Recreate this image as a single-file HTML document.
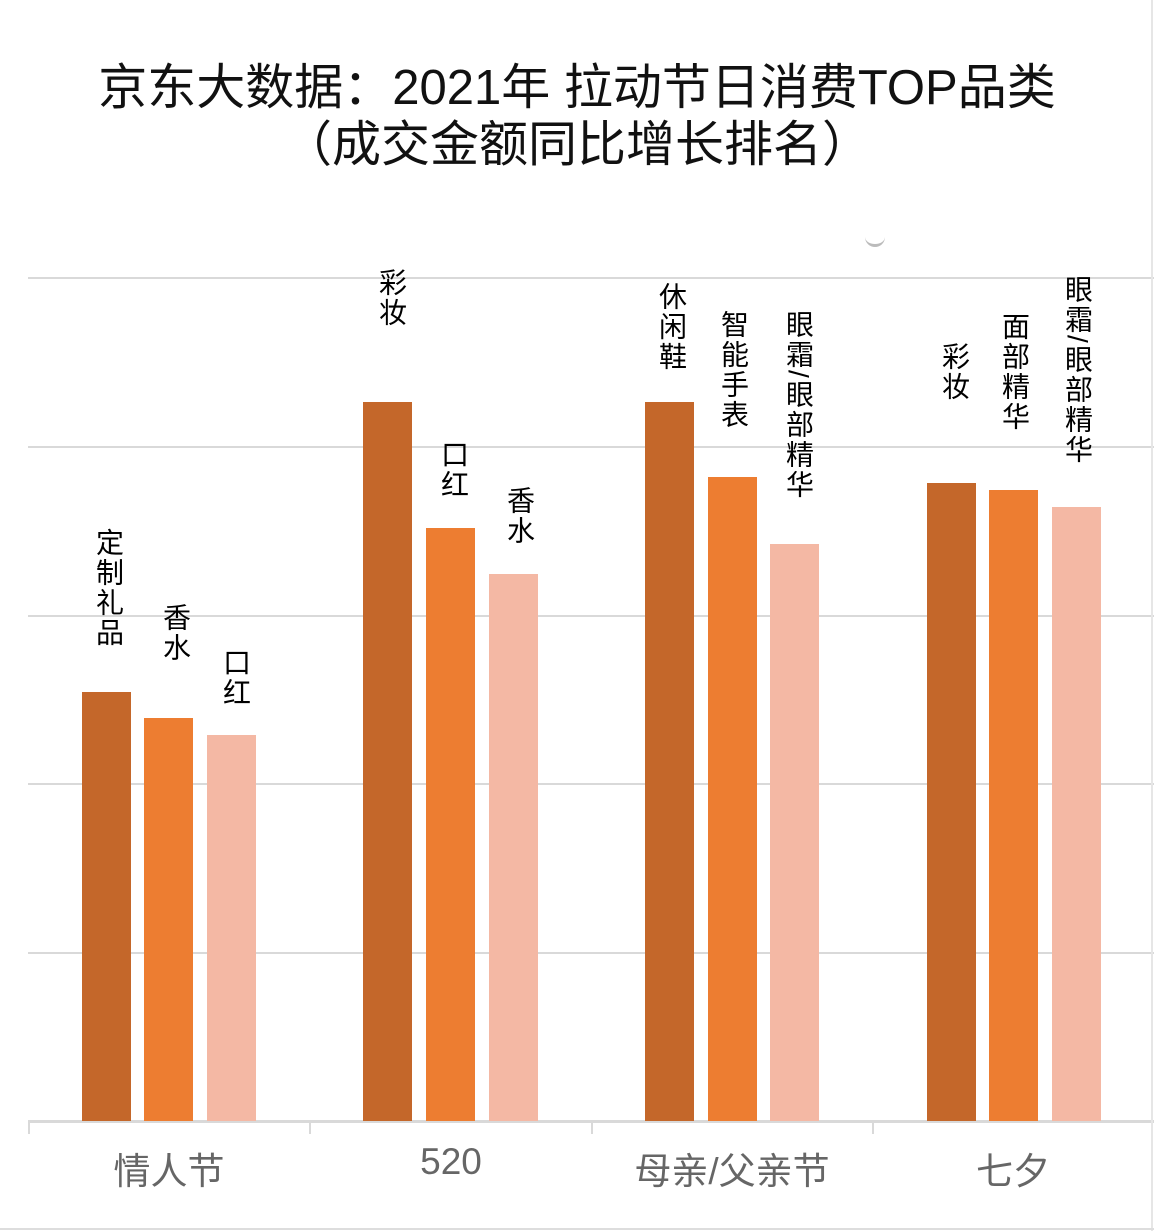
<!DOCTYPE html>
<html><head><meta charset="utf-8"><style>
body{margin:0;width:1154px;height:1231px;background:#fff;position:relative;overflow:hidden;font-family:"Liberation Sans","Noto Sans CJK SC",sans-serif}
.t{position:absolute;left:0;width:1154px;text-align:center;font-size:49px;color:#111;line-height:57px}
.g{position:absolute;left:28px;width:1126px;height:2px;background:#d9d9d9}
.b{position:absolute;width:49px}
.c1{background:#C4672A}.c2{background:#ED7D31}.c3{background:#F4B8A4}
.l{position:absolute;writing-mode:vertical-rl;font-size:28px;line-height:28px;color:#000;transform:translateX(-50%);letter-spacing:2px}
.x{position:absolute;top:1141px;font-size:37px;color:#666;transform:translateX(-50%)}
.tk{position:absolute;top:1121px;width:2px;height:13px;background:#d9d9d9}
</style></head><body>
<div class="t" style="top:60px">京东大数据：2021年 拉动节日消费TOP品类</div>
<div class="t" style="top:117px">（成交金额同比增长排名）</div>
<div style="position:absolute;left:865px;top:236px;width:20px;height:8px;border-bottom:3px solid #bbb;border-radius:0 0 10px 10px"></div>
<div class="g" style="top:277px"></div>
<div class="g" style="top:446px"></div>
<div class="g" style="top:615px"></div>
<div class="g" style="top:783px"></div>
<div class="g" style="top:952px"></div>
<div class="g" style="top:1120px;height:3px"></div>
<div class="tk" style="left:28px"></div><div class="tk" style="left:309px"></div><div class="tk" style="left:591px"></div><div class="tk" style="left:872px"></div>
<div style="position:absolute;left:1151px;top:0;width:2px;height:1231px;background:#e6e6e6"></div>
<div style="position:absolute;left:0;top:1228px;width:1154px;height:2px;background:#ddd"></div>

<div class="b c1" style="left:82px;top:692px;height:429px"></div>
<div class="b c2" style="left:144px;top:718px;height:403px"></div>
<div class="b c3" style="left:207px;top:735px;height:386px"></div>
<div class="b c1" style="left:363px;top:402px;height:719px"></div>
<div class="b c2" style="left:426px;top:528px;height:593px"></div>
<div class="b c3" style="left:489px;top:574px;height:547px"></div>
<div class="b c1" style="left:645px;top:402px;height:719px"></div>
<div class="b c2" style="left:708px;top:477px;height:644px"></div>
<div class="b c3" style="left:770px;top:544px;height:577px"></div>
<div class="b c1" style="left:927px;top:483px;height:638px"></div>
<div class="b c2" style="left:989px;top:490px;height:631px"></div>
<div class="b c3" style="left:1052px;top:507px;height:614px"></div>

<div class="l" style="left:108px;top:528px">定制礼品</div>
<div class="l" style="left:175px;top:603px">香水</div>
<div class="l" style="left:235px;top:648px">口红</div>
<div class="l" style="left:391px;top:268px">彩妆</div>
<div class="l" style="left:453px;top:440px">口红</div>
<div class="l" style="left:519px;top:486px">香水</div>
<div class="l" style="left:671px;top:282px">休闲鞋</div>
<div class="l" style="left:733px;top:310px">智能手表</div>
<div class="l" style="left:798px;top:310px">眼霜/眼部精华</div>
<div class="l" style="left:954px;top:342px">彩妆</div>
<div class="l" style="left:1014px;top:312px">面部精华</div>
<div class="l" style="left:1077px;top:275px">眼霜/眼部精华</div>

<div class="x" style="left:169px">情人节</div>
<div class="x" style="left:451px">520</div>
<div class="x" style="left:732px">母亲/父亲节</div>
<div class="x" style="left:1013px">七夕</div>
</body></html>
